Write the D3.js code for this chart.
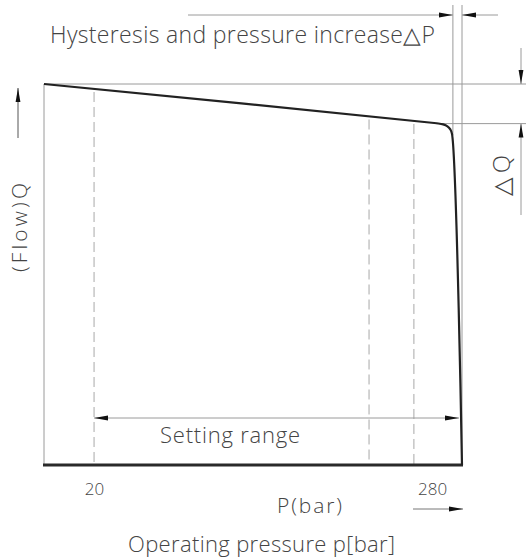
<!DOCTYPE html>
<html>
<head>
<meta charset="utf-8">
<script src="https://cdn.jsdelivr.net/npm/d3@7/dist/d3.min.js"></script>
<style>
  html, body { margin: 0; padding: 0; background: #fff; }
  svg { display: block; }
  text { font-family: "Open Sans", "DejaVu Sans", sans-serif; font-weight: 300; fill: #444; }
</style>
</head>
<body>
<svg id="chart" width="526" height="559"></svg>
<script>
// ---- data (pressure in bar, flow in % of Qmax) ----
const curvePressure = [-18.5, 283.5, 288.5, 291.8, 294.0, 295.3, 303];
const curveFlow     = [100,   89.7,  89.4,  88.9,  88.1,  86.9,  0];
const tickValues = [20, 280];
const tickLabels = ["20", "280"];
const dashedPressures = [20, 231.5, 266];
const qMax = 100;
const qKnee = 89.6;
const pHystStart = 296;
const pHystEnd = 303;
const settingRange = [20, 300.7];
const texts = {
  title: "Hysteresis and pressure increase△P",
  setting: "Setting range",
  pUnit: "P(bar)",
  xTitle: "Operating pressure p[bar]",
  yTitle: "(Flow)Q",
  dq: "△Q"
};

const svg = d3.select("#chart");
const x = d3.scaleLinear().domain([-18.5, 303]).range([44, 462]);
const y = d3.scaleLinear().domain([0, 100]).range([465, 84]);

const gray = "#9a9a9a";
const defs = svg.append("defs");
defs.append("marker").attr("id", "arr").attr("viewBox", "0 0 14 6")
  .attr("refX", 14).attr("refY", 3).attr("markerWidth", 14).attr("markerHeight", 6)
  .attr("markerUnits", "userSpaceOnUse").attr("orient", "auto-start-reverse")
  .append("path").attr("d", "M0,0.6 L14,3 L0,5.4 Z").attr("fill", "#111");

function line(x1, y1, x2, y2, opts = {}) {
  const l = svg.append("line").attr("x1", x1).attr("y1", y1).attr("x2", x2).attr("y2", y2)
    .attr("stroke", opts.stroke || gray).attr("stroke-width", opts.w || 1);
  if (opts.dash) l.attr("stroke-dasharray", opts.dash);
  if (opts.end) l.attr("marker-end", "url(#arr)");
  if (opts.start) l.attr("marker-start", "url(#arr)");
  return l;
}

function curveYAt(p) {
  for (let i = 0; i < curvePressure.length - 1; i++) {
    if (p >= curvePressure[i] && p <= curvePressure[i + 1]) {
      const t = (p - curvePressure[i]) / (curvePressure[i + 1] - curvePressure[i]);
      return curveFlow[i] + t * (curveFlow[i + 1] - curveFlow[i]);
    }
  }
  return 0;
}

// left axis (thin)
line(x(-18.5), y(qMax), x(-18.5), y(0));

// dashed lines
dashedPressures.forEach(p => {
  line(x(p), y(curveYAt(p)) + 3, x(p), y(0), { dash: "10,5", stroke: "#a8a8a8" });
});

// reference horizontal lines for ΔQ
line(x(-18.5), y(qMax), 526, y(qMax));
line(x(283), y(qKnee), 526, y(qKnee));

// ΔP vertical lines
line(x(pHystStart), 5, x(pHystStart), y(86.5));
line(x(pHystEnd), 5, x(pHystEnd), y(0));

// ΔP dimension arrows
line(188, 15, x(pHystStart), 15, { end: true });
line(498, 15, x(pHystEnd), 15, { end: true });

// ΔQ dimension arrows
line(521, 48, 521, y(qMax), { end: true });
line(521, 215, 521, y(qKnee), { end: true });

// setting range
line(x(settingRange[0]), 418, x(settingRange[1]), 418, { start: true, end: true });

// Flow arrow
line(18, 138, 18, 88, { end: true, stroke: "#555" });
// P arrow
line(413, 509, 463, 509, { end: true, stroke: "#777" });

// bottom axis (thick)
svg.append("line").attr("x1", 43).attr("x2", x(303) + 1).attr("y1", y(0)).attr("y2", y(0))
  .attr("stroke", "#2a2a2a").attr("stroke-width", 3);

// characteristic curve
const pts = curvePressure.map((p, i) => [p, curveFlow[i]]);
svg.append("path").datum(pts)
  .attr("d", d3.line().x(d => x(d[0])).y(d => y(d[1])).curve(d3.curveCatmullRom.alpha(0.5)))
  .attr("fill", "none").attr("stroke", "#222").attr("stroke-width", 2.2)
  .attr("stroke-linejoin", "round");

// axis ticks
const xAxis = d3.axisBottom(x).tickValues(tickValues).tickSize(0)
  .tickFormat((d, i) => tickLabels[i]);
const gx = svg.append("g").attr("transform", `translate(0,${y(0)})`).call(xAxis);
gx.select(".domain").remove();
gx.selectAll("text").attr("dy", 0).attr("y", 30)
  .style("font-family", "\"Open Sans\", sans-serif").style("font-weight", 300)
  .style("font-size", "17px").attr("fill", "#444");

// texts
svg.append("text").attr("x", 50).attr("y", 43).attr("font-size", 23)
  .attr("textLength", 385).attr("lengthAdjust", "spacing").text(texts.title);
svg.append("text").attr("x", 160).attr("y", 443).attr("font-size", 22)
  .attr("textLength", 140).attr("lengthAdjust", "spacing").text(texts.setting);
svg.append("text").attr("x", 277).attr("y", 513).attr("font-size", 21)
  .attr("textLength", 65).attr("lengthAdjust", "spacing").text(texts.pUnit);
svg.append("text").attr("x", 128).attr("y", 552).attr("font-size", 22)
  .attr("textLength", 267).attr("lengthAdjust", "spacing").text(texts.xTitle);
svg.append("text").attr("transform", "translate(27,272) rotate(-90)").attr("font-size", 21)
  .attr("textLength", 89).attr("lengthAdjust", "spacing").text(texts.yTitle);
svg.append("text").attr("transform", "translate(510,196) rotate(-90)").attr("font-size", 24)
  .attr("textLength", 41).attr("lengthAdjust", "spacing").text(texts.dq);
</script>
</body>
</html>
